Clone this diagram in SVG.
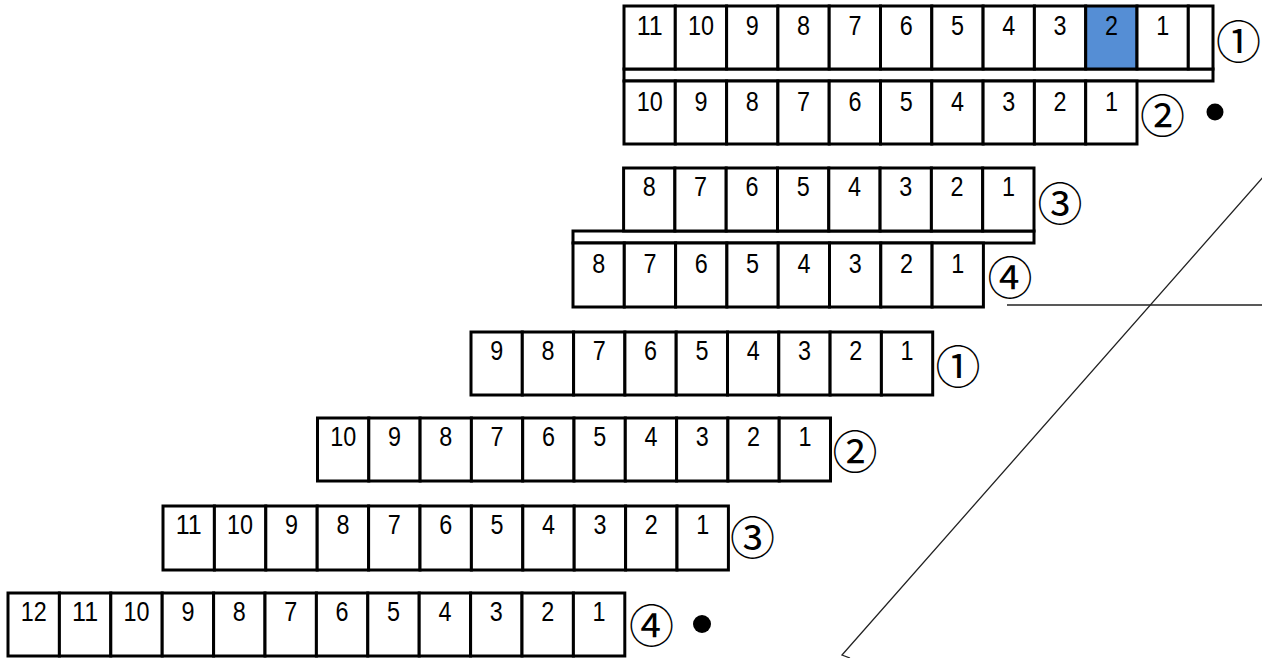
<svg xmlns="http://www.w3.org/2000/svg" width="1262" height="658" viewBox="0 0 1262 658">
<style>
.c{fill:#fff;stroke:#000;stroke-width:3}
.b{fill:#558ED5;stroke:#000;stroke-width:3}
.s{fill:#fff;stroke:#000;stroke-width:3}
.d{font-family:"Liberation Sans",Arial,sans-serif;font-size:27px;fill:#000;text-anchor:middle}
.m{font-family:"Noto Sans CJK JP","Noto Sans CJK SC",sans-serif;font-size:45px;fill:#000;text-anchor:middle}
.ln{stroke:#222;stroke-width:1.3;fill:none}
</style>
<rect width="1262" height="658" fill="#fff"/>
<g id="row1">
<rect class="s" x="624" y="69" width="589" height="12"/>
<rect class="c" x="624" y="6" width="51.3" height="63"/>
<rect class="c" x="675.3" y="6" width="51.3" height="63"/>
<rect class="c" x="726.6" y="6" width="51.3" height="63"/>
<rect class="c" x="777.9" y="6" width="51.3" height="63"/>
<rect class="c" x="829.2" y="6" width="51.3" height="63"/>
<rect class="c" x="880.5" y="6" width="51.3" height="63"/>
<rect class="c" x="931.8" y="6" width="51.3" height="63"/>
<rect class="c" x="983.1" y="6" width="51.3" height="63"/>
<rect class="c" x="1034.4" y="6" width="51.3" height="63"/>
<rect class="b" x="1085.7" y="6" width="51.3" height="63"/>
<rect class="c" x="1137" y="6" width="51.3" height="63"/>
<rect class="c" x="1188.3" y="6" width="24.7" height="63"/>
<text class="d" x="649.7" y="35" textLength="26" lengthAdjust="spacingAndGlyphs">11</text>
<text class="d" x="701" y="35" textLength="26" lengthAdjust="spacingAndGlyphs">10</text>
<text class="d" x="752.3" y="35" textLength="13" lengthAdjust="spacingAndGlyphs">9</text>
<text class="d" x="803.6" y="35" textLength="13" lengthAdjust="spacingAndGlyphs">8</text>
<text class="d" x="854.9" y="35" textLength="13" lengthAdjust="spacingAndGlyphs">7</text>
<text class="d" x="906.2" y="35" textLength="13" lengthAdjust="spacingAndGlyphs">6</text>
<text class="d" x="957.5" y="35" textLength="13" lengthAdjust="spacingAndGlyphs">5</text>
<text class="d" x="1008.8" y="35" textLength="13" lengthAdjust="spacingAndGlyphs">4</text>
<text class="d" x="1060.1" y="35" textLength="13" lengthAdjust="spacingAndGlyphs">3</text>
<text class="d" x="1111.4" y="35" textLength="13" lengthAdjust="spacingAndGlyphs">2</text>
<text class="d" x="1162.7" y="35" textLength="13" lengthAdjust="spacingAndGlyphs">1</text>
<text class="m" x="1238.5" y="59">①</text>
</g>
<g id="row2">
<rect class="c" x="624" y="81" width="51.3" height="63"/>
<rect class="c" x="675.3" y="81" width="51.3" height="63"/>
<rect class="c" x="726.6" y="81" width="51.3" height="63"/>
<rect class="c" x="777.9" y="81" width="51.3" height="63"/>
<rect class="c" x="829.2" y="81" width="51.3" height="63"/>
<rect class="c" x="880.5" y="81" width="51.3" height="63"/>
<rect class="c" x="931.8" y="81" width="51.3" height="63"/>
<rect class="c" x="983.1" y="81" width="51.3" height="63"/>
<rect class="c" x="1034.4" y="81" width="51.3" height="63"/>
<rect class="c" x="1085.7" y="81" width="51.3" height="63"/>
<text class="d" x="649.7" y="111" textLength="26" lengthAdjust="spacingAndGlyphs">10</text>
<text class="d" x="701" y="111" textLength="13" lengthAdjust="spacingAndGlyphs">9</text>
<text class="d" x="752.3" y="111" textLength="13" lengthAdjust="spacingAndGlyphs">8</text>
<text class="d" x="803.6" y="111" textLength="13" lengthAdjust="spacingAndGlyphs">7</text>
<text class="d" x="854.9" y="111" textLength="13" lengthAdjust="spacingAndGlyphs">6</text>
<text class="d" x="906.2" y="111" textLength="13" lengthAdjust="spacingAndGlyphs">5</text>
<text class="d" x="957.5" y="111" textLength="13" lengthAdjust="spacingAndGlyphs">4</text>
<text class="d" x="1008.8" y="111" textLength="13" lengthAdjust="spacingAndGlyphs">3</text>
<text class="d" x="1060.1" y="111" textLength="13" lengthAdjust="spacingAndGlyphs">2</text>
<text class="d" x="1111.4" y="111" textLength="13" lengthAdjust="spacingAndGlyphs">1</text>
<text class="m" x="1162.5" y="132.5">②</text>
<circle cx="1215" cy="112" r="8.5" fill="#000"/>
</g>
<g id="row3">
<rect class="s" x="573" y="231" width="461" height="12"/>
<rect class="c" x="623.6" y="168" width="51.3" height="63"/>
<rect class="c" x="674.9" y="168" width="51.3" height="63"/>
<rect class="c" x="726.2" y="168" width="51.3" height="63"/>
<rect class="c" x="777.5" y="168" width="51.3" height="63"/>
<rect class="c" x="828.8" y="168" width="51.3" height="63"/>
<rect class="c" x="880.1" y="168" width="51.3" height="63"/>
<rect class="c" x="931.4" y="168" width="51.3" height="63"/>
<rect class="c" x="982.7" y="168" width="51.3" height="63"/>
<text class="d" x="649.3" y="196" textLength="13" lengthAdjust="spacingAndGlyphs">8</text>
<text class="d" x="700.6" y="196" textLength="13" lengthAdjust="spacingAndGlyphs">7</text>
<text class="d" x="751.9" y="196" textLength="13" lengthAdjust="spacingAndGlyphs">6</text>
<text class="d" x="803.2" y="196" textLength="13" lengthAdjust="spacingAndGlyphs">5</text>
<text class="d" x="854.5" y="196" textLength="13" lengthAdjust="spacingAndGlyphs">4</text>
<text class="d" x="905.8" y="196" textLength="13" lengthAdjust="spacingAndGlyphs">3</text>
<text class="d" x="957.1" y="196" textLength="13" lengthAdjust="spacingAndGlyphs">2</text>
<text class="d" x="1008.4" y="196" textLength="13" lengthAdjust="spacingAndGlyphs">1</text>
<text class="m" x="1060" y="221">③</text>
</g>
<g id="row4">
<rect class="c" x="573" y="243" width="51.3" height="64"/>
<rect class="c" x="624.3" y="243" width="51.3" height="64"/>
<rect class="c" x="675.6" y="243" width="51.3" height="64"/>
<rect class="c" x="726.9" y="243" width="51.3" height="64"/>
<rect class="c" x="778.2" y="243" width="51.3" height="64"/>
<rect class="c" x="829.5" y="243" width="51.3" height="64"/>
<rect class="c" x="880.8" y="243" width="51.3" height="64"/>
<rect class="c" x="932.1" y="243" width="51.3" height="64"/>
<text class="d" x="598.7" y="273" textLength="13" lengthAdjust="spacingAndGlyphs">8</text>
<text class="d" x="650" y="273" textLength="13" lengthAdjust="spacingAndGlyphs">7</text>
<text class="d" x="701.3" y="273" textLength="13" lengthAdjust="spacingAndGlyphs">6</text>
<text class="d" x="752.6" y="273" textLength="13" lengthAdjust="spacingAndGlyphs">5</text>
<text class="d" x="803.9" y="273" textLength="13" lengthAdjust="spacingAndGlyphs">4</text>
<text class="d" x="855.2" y="273" textLength="13" lengthAdjust="spacingAndGlyphs">3</text>
<text class="d" x="906.5" y="273" textLength="13" lengthAdjust="spacingAndGlyphs">2</text>
<text class="d" x="957.8" y="273" textLength="13" lengthAdjust="spacingAndGlyphs">1</text>
<text class="m" x="1010" y="294.5">④</text>
</g>
<g id="row5">
<rect class="c" x="471" y="332" width="51.3" height="63"/>
<rect class="c" x="522.3" y="332" width="51.3" height="63"/>
<rect class="c" x="573.6" y="332" width="51.3" height="63"/>
<rect class="c" x="624.9" y="332" width="51.3" height="63"/>
<rect class="c" x="676.2" y="332" width="51.3" height="63"/>
<rect class="c" x="727.5" y="332" width="51.3" height="63"/>
<rect class="c" x="778.8" y="332" width="51.3" height="63"/>
<rect class="c" x="830.1" y="332" width="51.3" height="63"/>
<rect class="c" x="881.4" y="332" width="51.3" height="63"/>
<text class="d" x="496.7" y="360" textLength="13" lengthAdjust="spacingAndGlyphs">9</text>
<text class="d" x="548" y="360" textLength="13" lengthAdjust="spacingAndGlyphs">8</text>
<text class="d" x="599.3" y="360" textLength="13" lengthAdjust="spacingAndGlyphs">7</text>
<text class="d" x="650.6" y="360" textLength="13" lengthAdjust="spacingAndGlyphs">6</text>
<text class="d" x="701.9" y="360" textLength="13" lengthAdjust="spacingAndGlyphs">5</text>
<text class="d" x="753.2" y="360" textLength="13" lengthAdjust="spacingAndGlyphs">4</text>
<text class="d" x="804.5" y="360" textLength="13" lengthAdjust="spacingAndGlyphs">3</text>
<text class="d" x="855.8" y="360" textLength="13" lengthAdjust="spacingAndGlyphs">2</text>
<text class="d" x="907.1" y="360" textLength="13" lengthAdjust="spacingAndGlyphs">1</text>
<text class="m" x="958" y="383.5">①</text>
</g>
<g id="row6">
<rect class="c" x="317.5" y="418" width="51.3" height="63"/>
<rect class="c" x="368.8" y="418" width="51.3" height="63"/>
<rect class="c" x="420.1" y="418" width="51.3" height="63"/>
<rect class="c" x="471.4" y="418" width="51.3" height="63"/>
<rect class="c" x="522.7" y="418" width="51.3" height="63"/>
<rect class="c" x="574" y="418" width="51.3" height="63"/>
<rect class="c" x="625.3" y="418" width="51.3" height="63"/>
<rect class="c" x="676.6" y="418" width="51.3" height="63"/>
<rect class="c" x="727.9" y="418" width="51.3" height="63"/>
<rect class="c" x="779.2" y="418" width="51.3" height="63"/>
<text class="d" x="343.2" y="446" textLength="26" lengthAdjust="spacingAndGlyphs">10</text>
<text class="d" x="394.5" y="446" textLength="13" lengthAdjust="spacingAndGlyphs">9</text>
<text class="d" x="445.8" y="446" textLength="13" lengthAdjust="spacingAndGlyphs">8</text>
<text class="d" x="497.1" y="446" textLength="13" lengthAdjust="spacingAndGlyphs">7</text>
<text class="d" x="548.4" y="446" textLength="13" lengthAdjust="spacingAndGlyphs">6</text>
<text class="d" x="599.7" y="446" textLength="13" lengthAdjust="spacingAndGlyphs">5</text>
<text class="d" x="651" y="446" textLength="13" lengthAdjust="spacingAndGlyphs">4</text>
<text class="d" x="702.3" y="446" textLength="13" lengthAdjust="spacingAndGlyphs">3</text>
<text class="d" x="753.6" y="446" textLength="13" lengthAdjust="spacingAndGlyphs">2</text>
<text class="d" x="804.9" y="446" textLength="13" lengthAdjust="spacingAndGlyphs">1</text>
<text class="m" x="855" y="468.5">②</text>
</g>
<g id="row7">
<rect class="c" x="163" y="506" width="51.4" height="64"/>
<rect class="c" x="214.4" y="506" width="51.4" height="64"/>
<rect class="c" x="265.8" y="506" width="51.4" height="64"/>
<rect class="c" x="317.2" y="506" width="51.4" height="64"/>
<rect class="c" x="368.6" y="506" width="51.4" height="64"/>
<rect class="c" x="420" y="506" width="51.4" height="64"/>
<rect class="c" x="471.4" y="506" width="51.4" height="64"/>
<rect class="c" x="522.8" y="506" width="51.4" height="64"/>
<rect class="c" x="574.2" y="506" width="51.4" height="64"/>
<rect class="c" x="625.6" y="506" width="51.4" height="64"/>
<rect class="c" x="677" y="506" width="51.4" height="64"/>
<text class="d" x="188.7" y="534" textLength="26" lengthAdjust="spacingAndGlyphs">11</text>
<text class="d" x="240.1" y="534" textLength="26" lengthAdjust="spacingAndGlyphs">10</text>
<text class="d" x="291.5" y="534" textLength="13" lengthAdjust="spacingAndGlyphs">9</text>
<text class="d" x="342.9" y="534" textLength="13" lengthAdjust="spacingAndGlyphs">8</text>
<text class="d" x="394.3" y="534" textLength="13" lengthAdjust="spacingAndGlyphs">7</text>
<text class="d" x="445.7" y="534" textLength="13" lengthAdjust="spacingAndGlyphs">6</text>
<text class="d" x="497.1" y="534" textLength="13" lengthAdjust="spacingAndGlyphs">5</text>
<text class="d" x="548.5" y="534" textLength="13" lengthAdjust="spacingAndGlyphs">4</text>
<text class="d" x="599.9" y="534" textLength="13" lengthAdjust="spacingAndGlyphs">3</text>
<text class="d" x="651.3" y="534" textLength="13" lengthAdjust="spacingAndGlyphs">2</text>
<text class="d" x="702.7" y="534" textLength="13" lengthAdjust="spacingAndGlyphs">1</text>
<text class="m" x="752.5" y="555">③</text>
</g>
<g id="row8">
<rect class="c" x="8" y="593" width="51.4" height="63"/>
<rect class="c" x="59.4" y="593" width="51.4" height="63"/>
<rect class="c" x="110.8" y="593" width="51.4" height="63"/>
<rect class="c" x="162.2" y="593" width="51.4" height="63"/>
<rect class="c" x="213.6" y="593" width="51.4" height="63"/>
<rect class="c" x="265" y="593" width="51.4" height="63"/>
<rect class="c" x="316.4" y="593" width="51.4" height="63"/>
<rect class="c" x="367.8" y="593" width="51.4" height="63"/>
<rect class="c" x="419.2" y="593" width="51.4" height="63"/>
<rect class="c" x="470.6" y="593" width="51.4" height="63"/>
<rect class="c" x="522" y="593" width="51.4" height="63"/>
<rect class="c" x="573.4" y="593" width="51.4" height="63"/>
<text class="d" x="33.7" y="621" textLength="26" lengthAdjust="spacingAndGlyphs">12</text>
<text class="d" x="85.1" y="621" textLength="26" lengthAdjust="spacingAndGlyphs">11</text>
<text class="d" x="136.5" y="621" textLength="26" lengthAdjust="spacingAndGlyphs">10</text>
<text class="d" x="187.9" y="621" textLength="13" lengthAdjust="spacingAndGlyphs">9</text>
<text class="d" x="239.3" y="621" textLength="13" lengthAdjust="spacingAndGlyphs">8</text>
<text class="d" x="290.7" y="621" textLength="13" lengthAdjust="spacingAndGlyphs">7</text>
<text class="d" x="342.1" y="621" textLength="13" lengthAdjust="spacingAndGlyphs">6</text>
<text class="d" x="393.5" y="621" textLength="13" lengthAdjust="spacingAndGlyphs">5</text>
<text class="d" x="444.9" y="621" textLength="13" lengthAdjust="spacingAndGlyphs">4</text>
<text class="d" x="496.3" y="621" textLength="13" lengthAdjust="spacingAndGlyphs">3</text>
<text class="d" x="547.7" y="621" textLength="13" lengthAdjust="spacingAndGlyphs">2</text>
<text class="d" x="599.1" y="621" textLength="13" lengthAdjust="spacingAndGlyphs">1</text>
<text class="m" x="651.5" y="643">④</text>
<circle cx="702" cy="624" r="9" fill="#000"/>
</g>
<g id="connectors">
<line class="ln" x1="1007" y1="305" x2="1262" y2="305"/>
<polyline class="ln" points="1264,176 842,655 850,658"/>
</g>
</svg>
